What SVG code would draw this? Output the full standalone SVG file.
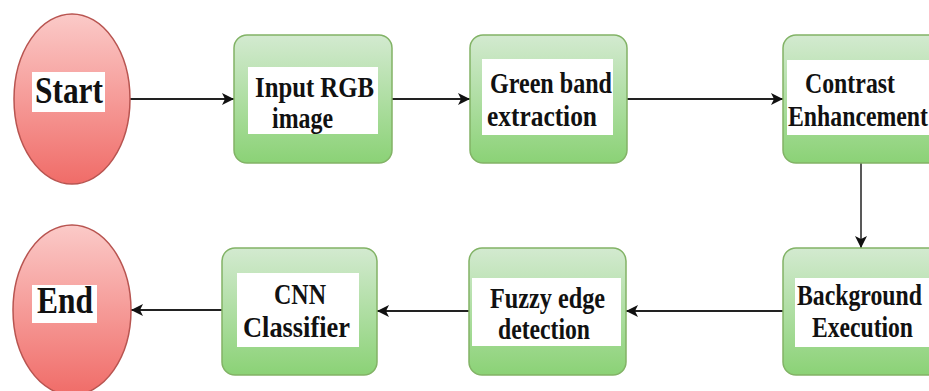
<svg xmlns="http://www.w3.org/2000/svg" width="929" height="391" viewBox="0 0 929 391">
<style>
.term{stroke:#b85450;stroke-width:1.5;fill:url(#gRed)}
.box{stroke:#82b366;stroke-width:1.5;fill:url(#gGreen)}
.lbl{fill:#ffffff;stroke:none}
.t{font-family:"Liberation Serif","Times New Roman",serif;font-weight:bold;font-size:30px;fill:#111111}
.tb{font-family:"Liberation Serif","Times New Roman",serif;font-weight:bold;font-size:38px;fill:#111111}
.edge{stroke:#222222;stroke-width:2;fill:none;marker-end:url(#arr)}
</style>
<defs>
<linearGradient id="gRed" x1="0" y1="0" x2="0" y2="1">
<stop offset="0" stop-color="#fbcac8"/>
<stop offset="1" stop-color="#f06c68"/>
</linearGradient>
<linearGradient id="gGreen" x1="0" y1="0" x2="0" y2="1">
<stop offset="0" stop-color="#d3ead0"/>
<stop offset="1" stop-color="#8bd276"/>
</linearGradient>
<marker id="arr" markerUnits="userSpaceOnUse" markerWidth="14" markerHeight="14" refX="12" refY="7" orient="auto">
<path d="M0,1 L12,7 L0,13 L3,7 Z" fill="#111111"/>
</marker>
</defs>
<rect width="929" height="391" fill="#ffffff"/>

<g id="connectors">
<line class="edge" x1="130" y1="99" x2="234" y2="99"/>
<line class="edge" x1="392" y1="99" x2="470" y2="99"/>
<line class="edge" x1="627" y1="99" x2="783" y2="99"/>
<line class="edge" x1="861" y1="163" x2="861" y2="248" style="stroke-width:1.5"/>
<line class="edge" x1="783" y1="311" x2="626" y2="311"/>
<line class="edge" x1="469" y1="311" x2="377" y2="311"/>
<line class="edge" x1="222" y1="310" x2="131" y2="310"/>
</g>

<g id="start">
<ellipse class="term" cx="72" cy="99" rx="58" ry="85"/>
<rect class="lbl" x="32" y="72" width="73" height="40"/>
<text class="tb" x="35" y="103" textLength="68" lengthAdjust="spacingAndGlyphs">Start</text>
</g>

<g id="input">
<rect class="box" x="234" y="35" width="158" height="128" rx="13"/>
<rect class="lbl" x="248" y="67" width="130" height="67"/>
<text class="t" x="255" y="97" textLength="119" lengthAdjust="spacingAndGlyphs">Input RGB</text>
<text class="t" x="272" y="128" textLength="61" lengthAdjust="spacingAndGlyphs">image</text>
</g>

<g id="green">
<rect class="box" x="470" y="35" width="157" height="128" rx="13"/>
<rect class="lbl" x="482" y="59" width="131" height="76"/>
<text class="t" x="490" y="93" textLength="122" lengthAdjust="spacingAndGlyphs">Green band</text>
<text class="t" x="487" y="126" textLength="110" lengthAdjust="spacingAndGlyphs">extraction</text>
</g>

<g id="contrast">
<rect class="box" x="783" y="35" width="170" height="128" rx="13"/>
<rect class="lbl" x="787" y="60" width="160" height="75"/>
<text class="t" x="805" y="93" textLength="90" lengthAdjust="spacingAndGlyphs">Contrast</text>
<text class="t" x="788" y="126" textLength="140" lengthAdjust="spacingAndGlyphs">Enhancement</text>
</g>

<g id="background">
<rect class="box" x="783" y="248" width="170" height="127" rx="13"/>
<rect class="lbl" x="795" y="278" width="150" height="69"/>
<text class="t" x="797" y="305" textLength="125" lengthAdjust="spacingAndGlyphs">Background</text>
<text class="t" x="812" y="337" textLength="101" lengthAdjust="spacingAndGlyphs">Execution</text>
</g>

<g id="fuzzy">
<rect class="box" x="469" y="248" width="157" height="127" rx="13"/>
<rect class="lbl" x="472" y="278" width="149" height="68"/>
<text class="t" x="490" y="308" textLength="115" lengthAdjust="spacingAndGlyphs">Fuzzy edge</text>
<text class="t" x="498" y="339" textLength="92" lengthAdjust="spacingAndGlyphs">detection</text>
</g>

<g id="cnn">
<rect class="box" x="222" y="248" width="155" height="127" rx="13"/>
<rect class="lbl" x="237" y="273" width="122" height="74"/>
<text class="t" x="274" y="304" textLength="52" lengthAdjust="spacingAndGlyphs">CNN</text>
<text class="t" x="243" y="337" textLength="107" lengthAdjust="spacingAndGlyphs">Classifier</text>
</g>

<g id="end">
<ellipse class="term" cx="72" cy="310" rx="59" ry="85"/>
<rect class="lbl" x="32" y="285" width="65" height="38"/>
<text class="tb" x="37" y="313" textLength="56" lengthAdjust="spacingAndGlyphs">End</text>
</g>
</svg>
